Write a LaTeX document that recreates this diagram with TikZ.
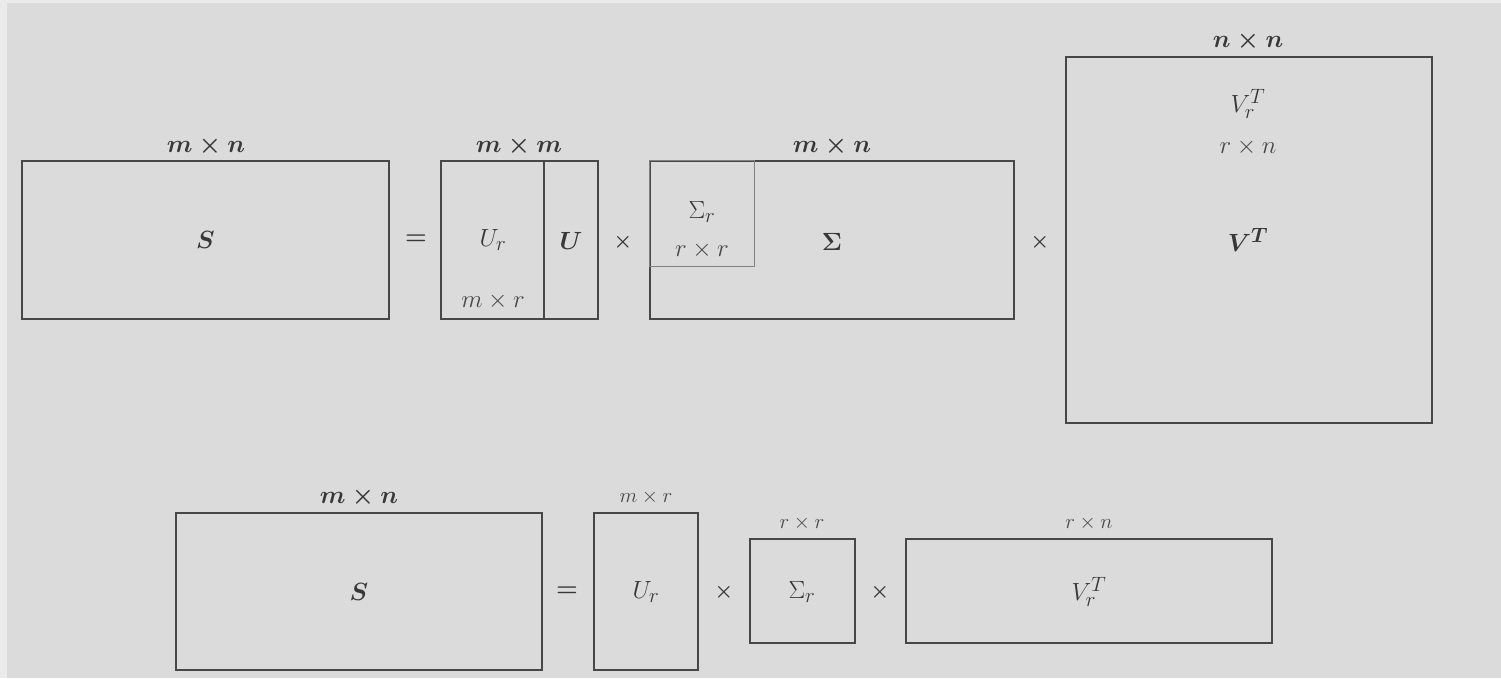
\documentclass[tikz,border=0pt]{standalone}
\usepackage{amsmath}
\usepackage{bm}
\begin{document}
\begin{tikzpicture}[x=1pt,y=-1pt,
  mat/.style={draw=black!72, line width=2pt, inner sep=0pt, fill=none},
  sub/.style={draw=black!50, line width=1.3pt, inner sep=0pt},
  txt/.style={inner sep=0pt, text=black!78},
  big/.style={txt, font=\fontsize{30}{34}\selectfont},
  bigb/.style={txt, font=\fontsize{30}{34}\selectfont\boldmath},
  dimb/.style={txt, font=\fontsize{28}{32}\selectfont\boldmath},
  dimi/.style={txt, font=\fontsize{29}{32}\selectfont, text=black!72},
  dims/.style={txt, font=\fontsize{22}{26}\selectfont, text=black!72},
  op/.style={txt, font=\fontsize{23}{26}\selectfont\boldmath},
  ops/.style={txt, font=\fontsize{22}{26}\selectfont\boldmath}
]
% background
\fill[black!8] (0,0) rectangle (1501,678);
\fill[black!14] (7,3) rectangle (1501,678);
\useasboundingbox (0,0) rectangle (1501,678);

% ---------- top row ----------
\node[mat, minimum width=367pt, minimum height=158pt] (S1) at (205.5,240) {};
\node[bigb] (S1t) at (S1.center) {$S$};
\node[dimb, anchor=base] (S1d) at (206,152) {$m\times n$};

\node[op] (eq1) at (416,240) {$=$};

\node[mat, minimum width=157pt, minimum height=158pt] (U1) at (519.5,240) {};
\draw[mat] ([xshift=104pt]U1.north west) -- ([xshift=104pt]U1.south west);
\node[big] (Ur1) at (493,240) {$U_r$};
\node[dimi, anchor=base] (Ur1d) at (493,307) {$m\times r$};
\node[bigb] (U1t) at (571,241) {$U$};
\node[dimb, anchor=base] (U1d) at (519,152) {$m\times m$};

\node[ops] (x1) at (623,242) {$\times$};

\node[mat, minimum width=364pt, minimum height=158pt] (Sig1) at (832,240) {};
\node[sub, minimum width=105pt, minimum height=106pt, anchor=north west] (Sigr1) at (Sig1.north west) {};
\node[big] (Sigr1t) at (702,212) {$\Sigma_r$};
\node[dimi, anchor=base] (Sigr1d) at (702,256) {$r\times r$};
\node[bigb] (Sig1t) at (832,242) {$\Sigma$};
\node[dimb, anchor=base] (Sig1d) at (832,152) {$m\times n$};

\node[ops] (x2) at (1040,242) {$\times$};

\node[mat, minimum width=366pt, minimum height=366pt] (V1) at (1249,240) {};
\draw[mat] ([yshift=105pt]V1.north west) -- ([yshift=105pt]V1.north east);
\node[big] (Vr1) at (1248,104) {$V_r^T$};
\node[dimi, anchor=base] (Vr1d) at (1248,153) {$r\times n$};
\node[bigb] (V1t) at (1248,240) {$V^T$};
\node[dimb, anchor=base] (V1d) at (1248,47) {$n\times n$};

% ---------- bottom row ----------
\node[mat, minimum width=366pt, minimum height=157pt] (S2) at (359,591.5) {};
\node[bigb] (S2t) at (S2.center) {$S$};
\node[dimb, anchor=base] (S2d) at (359,503) {$m\times n$};

\node[op] (eq2) at (567,592) {$=$};

\node[mat, minimum width=104pt, minimum height=157pt] (U2) at (646,591.5) {};
\node[big] (U2t) at (646,592) {$U_r$};
\node[dims, anchor=base] (U2d) at (646,502) {$m\times r$};

\node[ops] (x3) at (724,592) {$\times$};

\node[mat, minimum width=105pt, minimum height=104pt] (Sig2) at (802.5,591) {};
\node[big] (Sig2t) at (802,592) {$\Sigma_r$};
\node[dims, anchor=base] (Sig2d) at (802,528) {$r\times r$};

\node[ops] (x4) at (880,592) {$\times$};

\node[mat, minimum width=366pt, minimum height=104pt] (V2) at (1089,591) {};
\node[big] (V2t) at (1089,592) {$V_r^T$};
\node[dims, anchor=base] (V2d) at (1089,528) {$r\times n$};
\end{tikzpicture}
\end{document}
